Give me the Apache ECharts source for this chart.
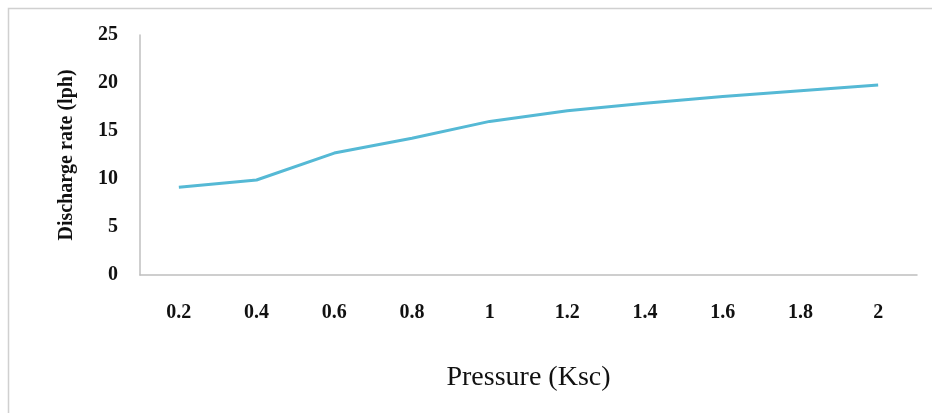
<!DOCTYPE html>
<html>
<head>
<meta charset="utf-8">
<script src="https://cdn.jsdelivr.net/npm/echarts@6/dist/echarts.min.js"></script>
<style>html,body{margin:0;padding:0;background:#fff;}#chart{width:932px;height:413px;}</style>
</head>
<body>
<div id="chart"></div>
<script>
const categories = ['0.2','0.4','0.6','0.8','1','1.2','1.4','1.6','1.8','2'];
const dischargeRate = [9.15, 9.9, 12.7, 14.25, 16.0, 17.1, 17.9, 18.6, 19.2, 19.8];
const yTicks = { min: 0, max: 25, interval: 5 };

const chart = echarts.init(document.getElementById('chart'));
chart.setOption({
  backgroundColor: '#ffffff',
  animation: false,
  graphic: [{
    type: 'rect',
    shape: { x: 8.5, y: 8.5, width: 940, height: 420 },
    style: { fill: 'none', stroke: '#d0d0d0', lineWidth: 1.5 },
    silent: true
  }],
  grid: { left: 140, top: 35, right: 15, bottom: 138, containLabel: false },
  xAxis: {
    type: 'category',
    data: categories,
    boundaryGap: true,
    axisLine: { show: true, lineStyle: { color: '#bfbfbf', width: 1.5 } },
    axisTick: { show: false },
    axisLabel: { margin: 28, fontFamily: 'Liberation Serif', fontWeight: 'bold', fontSize: 20, color: '#111' },
    name: 'Pressure (Ksc)',
    nameLocation: 'middle',
    nameGap: 89,
    nameTextStyle: { fontFamily: 'Liberation Serif', fontSize: 28, color: '#111' }
  },
  yAxis: {
    type: 'value',
    min: yTicks.min, max: yTicks.max, interval: yTicks.interval,
    splitLine: { show: false },
    axisLine: { show: true, lineStyle: { color: '#bfbfbf', width: 1.5 } },
    axisTick: { show: false },
    axisLabel: { margin: 22, fontFamily: 'Liberation Serif', fontWeight: 'bold', fontSize: 20, color: '#111' },
    name: 'Discharge rate (lph)',
    nameLocation: 'middle',
    nameGap: 63,
    nameRotate: 90,
    nameTextStyle: { fontFamily: 'Liberation Serif', fontWeight: 'bold', fontSize: 20, color: '#111' }
  },
  series: [{
    type: 'line',
    data: dischargeRate,
    symbol: 'none',
    lineStyle: { color: '#55b9d5', width: 3 }
  }]
});
</script>
</body>
</html>
